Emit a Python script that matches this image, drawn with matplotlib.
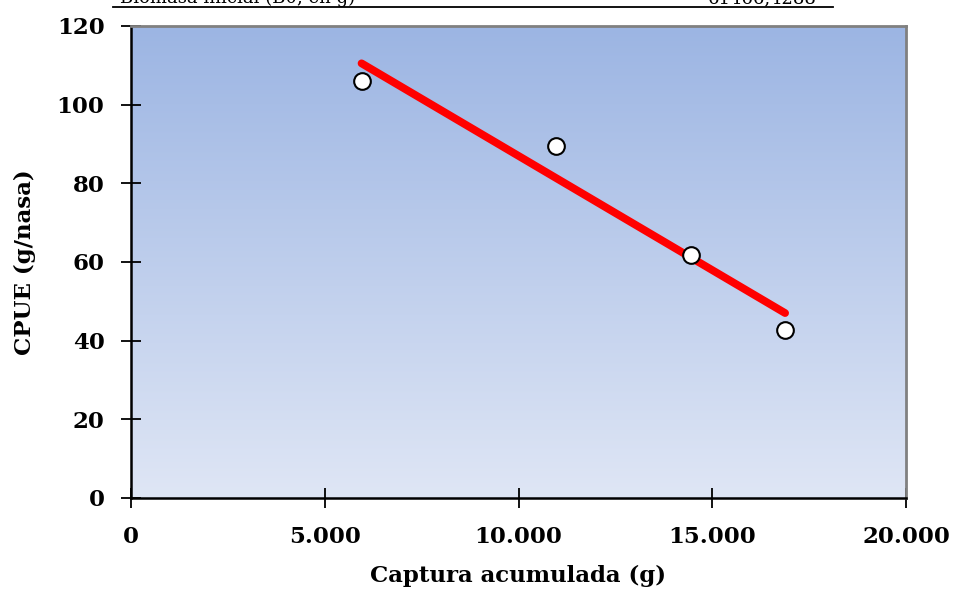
import numpy as np
import matplotlib
matplotlib.use("Agg")
import matplotlib.pyplot as plt
from matplotlib.ticker import FuncFormatter, MultipleLocator
from matplotlib.colors import LinearSegmentedColormap

# Data
captura = [5950, 10970, 14450, 16880]
cpue = [106.0, 89.4, 61.8, 42.8]
header_label = "Biomasa inicial (B0, en g)"
header_value = "61466,4288"
xlabel = "Captura acumulada (g)"
ylabel = "CPUE (g/nasa)"

W, H = 958, 592
fig = plt.figure(figsize=(W / 100, H / 100), dpi=100)
ax = fig.add_axes([131 / W, 1 - 498 / H, (906 - 131) / W, (498 - 26) / H])

# gradient background
cmap = LinearSegmentedColormap.from_list("bg", ["#9cb5e3", "#dfe6f5"])
grad = np.linspace(0, 1, 256).reshape(-1, 1)
ax.imshow(grad, aspect="auto", cmap=cmap, extent=[0, 1, 0, 1],
          transform=ax.transAxes, zorder=0, origin="upper")

ax.set_xlim(0, 20000)
ax.set_ylim(0, 120)

# regression line
x = np.array(captura, dtype=float)
y = np.array(cpue, dtype=float)
m, b = np.polyfit(x, y, 1)
xl = np.array([x.min(), x.max()])
ax.plot(xl, m * xl + b, color="#ff0000", lw=5.6, solid_capstyle="round", zorder=3)

ax.plot(x, y, "o", ms=12, mfc="white", mec="black", mew=1.5, zorder=4, linestyle="none")

# spines
for s in ["top", "right"]:
    ax.spines[s].set_color("#808080")
    ax.spines[s].set_linewidth(2)
for s in ["left", "bottom"]:
    ax.spines[s].set_color("black")
    ax.spines[s].set_linewidth(1.8)

ax.xaxis.set_major_locator(MultipleLocator(5000))
ax.yaxis.set_major_locator(MultipleLocator(20))
ax.xaxis.set_major_formatter(FuncFormatter(lambda v, p: f"{int(v):,}".replace(",", ".")))
ax.tick_params(axis="both", direction="inout", length=14, width=1.3, color="black")
ax.tick_params(axis="x", pad=13)
ax.tick_params(axis="y", pad=12)

font = dict(family="DejaVu Serif", weight="bold", size=16.5)
for lab in ax.get_xticklabels() + ax.get_yticklabels():
    lab.set_fontfamily("DejaVu Serif")
    lab.set_fontweight("bold")
    lab.set_fontsize(16.5)

ax.set_xlabel(xlabel, fontdict=font, labelpad=12)
ax.set_ylabel(ylabel, fontdict=font, labelpad=15)

# cropped header row (cut off at the top edge, as in the source)
fig.text(120 / W, 1 - 3 / H, header_label, family="DejaVu Serif", fontsize=13,
         ha="left", va="baseline")
fig.text(817 / W, 1 - 3 / H, header_value, family="DejaVu Serif", fontsize=13,
         ha="right", va="baseline")
fig.add_artist(plt.Line2D([113 / W, 833 / W], [1 - 7 / H, 1 - 7 / H],
                          transform=fig.transFigure, color="black", lw=1.3))

fig.savefig("out.png", dpi=100)
